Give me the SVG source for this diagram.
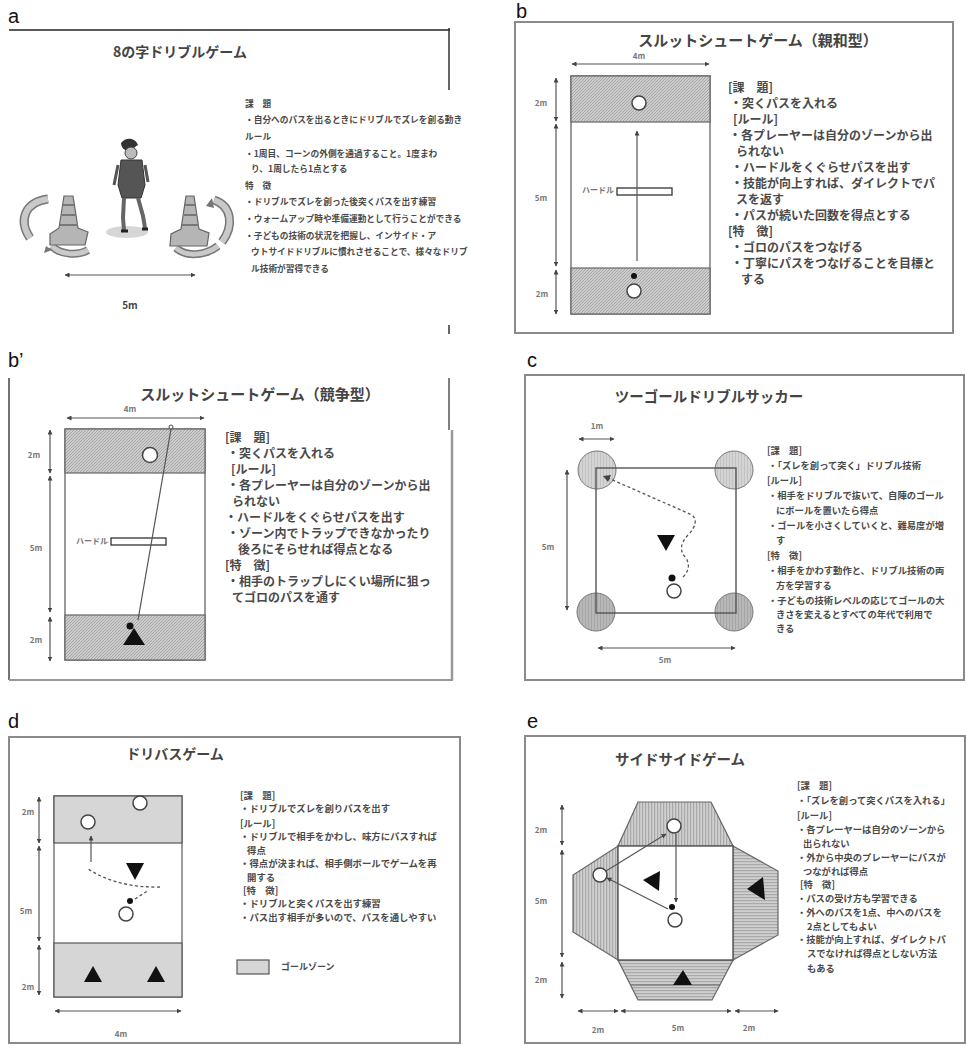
<svg xmlns="http://www.w3.org/2000/svg" width="966" height="1045" viewBox="0 0 966 1045">
  <defs>
    <style>
      .lbl { font-family: "Liberation Sans", Arial, sans-serif; font-size: 20px; fill: #111; }
      .ttl { font-family: "Noto Sans CJK JP", "Noto Sans", sans-serif; font-weight: 700; fill: #444; }
      .txt { font-family: "Noto Sans CJK JP", "Noto Sans", sans-serif; font-weight: 700; fill: #4a4a4a; }
      .dim { font-family: "Noto Sans CJK JP", "Liberation Sans", sans-serif; font-weight: 700; fill: #777; font-size: 8px; }
      .frame { fill: #fff; stroke: #8a8a8a; stroke-width: 2; }
      .field { fill: #fff; stroke: #666; stroke-width: 1.3; }
      .dl { stroke: #555; stroke-width: 1.2; fill: none; marker-start: url(#ah); marker-end: url(#ah); }
      .pass { stroke: #555; stroke-width: 1.2; fill: none; marker-end: url(#ah); }
      .drib { stroke: #555; stroke-width: 1.3; fill: none; stroke-dasharray: 3 2.5; }
      .player { fill: #fff; stroke: #444; stroke-width: 1.5; }
      .ball { fill: #111; }
      .opp { fill: #111; }
    </style>
    <marker id="ah" viewBox="0 0 10 10" refX="9" refY="5" markerWidth="5" markerHeight="5" orient="auto-start-reverse" markerUnits="userSpaceOnUse">
      <path d="M0,0 L10,5 L0,10 z" fill="#444"/>
    </marker>
    <pattern id="hatch" width="3" height="3" patternUnits="userSpaceOnUse">
      <rect width="3" height="3" fill="#cdcdcd"/>
      <path d="M0,3 L3,0" stroke="#9a9a9a" stroke-width="0.8"/>
    </pattern>
    <pattern id="vstripe" width="3" height="3" patternUnits="userSpaceOnUse">
      <rect width="3" height="3" fill="#cfcfcf"/>
      <rect width="1.2" height="3" fill="#a9a9a9"/>
    </pattern>
    <pattern id="hstripe" width="3" height="3" patternUnits="userSpaceOnUse">
      <rect width="3" height="3" fill="#cfcfcf"/>
      <rect width="3" height="1.2" fill="#a9a9a9"/>
    </pattern>
    <pattern id="goalLight" width="3" height="3" patternUnits="userSpaceOnUse">
      <rect width="3" height="3" fill="#d4d4d4"/>
      <rect width="1" height="3" fill="#c2c2c2"/>
    </pattern>
    <pattern id="goalDark" width="3" height="3" patternUnits="userSpaceOnUse">
      <rect width="3" height="3" fill="#b8b8b8"/>
      <rect width="1" height="3" fill="#a6a6a6"/>
    </pattern>
    <linearGradient id="fadeL" x1="0" x2="1" y1="0" y2="0">
      <stop offset="0" stop-color="#ddd"/>
      <stop offset="0.35" stop-color="#777"/>
      <stop offset="1" stop-color="#333"/>
    </linearGradient>
    <linearGradient id="fadeR" x1="0" x2="1" y1="0" y2="0">
      <stop offset="0" stop-color="#222"/>
      <stop offset="0.6" stop-color="#555"/>
      <stop offset="1" stop-color="#eee"/>
    </linearGradient>
  </defs>

  <rect width="966" height="1045" fill="#fff"/>

  <!-- a: figure-eight dribble game -->
  <g id="panel-a">
    <text class="lbl" x="8" y="23">a</text>
    <line x1="9" y1="30" x2="450" y2="30" stroke="#222" stroke-width="1.5"/>
    <line x1="449" y1="28" x2="449" y2="90" stroke="#333" stroke-width="1.5"/>
    <line x1="449" y1="325" x2="449" y2="334" stroke="#333" stroke-width="1.5"/>
    <line x1="9" y1="333" x2="449" y2="333" stroke="url(#fadeL)" stroke-width="1.5"/>
    <text class="ttl" x="180" y="57" font-size="14" text-anchor="middle" fill="#222">8の字ドリブルゲーム</text>

    <!-- cones with turning arrows -->
    <g id="cone-left">
      <path d="M30,238 C18,220 25,202 48,199" fill="none" stroke="#777" stroke-width="9"/>
      <path d="M30,238 C18,220 25,202 48,199" fill="none" stroke="#c9c9c9" stroke-width="6"/>
      <path d="M52,246 C60,255 78,256 88,250" fill="none" stroke="#777" stroke-width="8"/>
      <path d="M52,246 C60,255 78,256 88,250" fill="none" stroke="#c9c9c9" stroke-width="5"/>
      <path d="M50,245 L85,245 L88,232 L78,228 L73,196 L64,196 L59,228 L50,234 z" fill="#b5b5b5" stroke="#666" stroke-width="1.2"/>
      <path d="M63,205 L74,205 M62,215 L76,215 M60,225 L78,225" stroke="#777" stroke-width="2"/>
      <path d="M44,253 L46,246 L52,250" fill="#777"/>
    </g>
    <g id="cone-right">
      <path d="M214,200 C232,206 234,226 222,242" fill="none" stroke="#777" stroke-width="9"/>
      <path d="M214,200 C232,206 234,226 222,242" fill="none" stroke="#c9c9c9" stroke-width="6"/>
      <path d="M176,248 C186,257 205,256 218,246" fill="none" stroke="#777" stroke-width="8"/>
      <path d="M176,248 C186,257 205,256 218,246" fill="none" stroke="#c9c9c9" stroke-width="5"/>
      <path d="M170,246 L207,246 L209,233 L199,229 L194,196 L186,196 L181,229 L171,234 z" fill="#b5b5b5" stroke="#666" stroke-width="1.2"/>
      <path d="M185,205 L195,205 M184,215 L197,215 M182,225 L199,225" stroke="#777" stroke-width="2"/>
      <path d="M206,206 L212,198 L214,208" fill="#777"/>
    </g>
    <g id="player-a">
      <ellipse cx="127" cy="232" rx="21" ry="6" fill="#d6d6d6"/>
      <path d="M121,143 C126,136 136,138 138,145 C135,146 133,150 130,151 C125,151 121,148 121,143 z" fill="#333"/>
      <circle cx="131" cy="153" r="6" fill="#bbb" stroke="#444"/>
      <path d="M121,160 L142,160 L145,185 L141,198 L122,198 L118,185 z" fill="#555" stroke="#333"/>
      <path d="M118,165 L114,185 M145,165 L148,182" stroke="#555" stroke-width="3"/>
      <path d="M124,198 L123,218 L124,230 M138,198 L143,216 L145,228" stroke="#666" stroke-width="4" fill="none"/>
      <path d="M121,231 L128,231 M142,229 L148,229" stroke="#222" stroke-width="3"/>
    </g>
    <line class="dl" x1="65" y1="275" x2="195" y2="275" stroke-width="1"/>
    <text class="ttl" x="130" y="309" font-size="10" text-anchor="middle" fill="#222">5m</text>

    <g class="txt" font-size="8.7" fill="#1a1a1a">
      <text x="245" y="107">課　題</text>
      <text x="245" y="123">・自分へのパスを出るときにドリブルでズレを創る動き</text>
      <text x="245" y="140">ルール</text>
      <text x="245" y="157">・1周目、コーンの外側を通過すること。1度まわ</text>
      <text x="251" y="172">り、1周したら1点とする</text>
      <text x="245" y="189">特　徴</text>
      <text x="245" y="205">・ドリブルでズレを創った後突くパスを出す練習</text>
      <text x="245" y="222">・ウォームアップ時や準備運動として行うことができる</text>
      <text x="245" y="239">・子どもの技術の状況を把握し、インサイド・ア</text>
      <text x="251" y="255">ウトサイドドリブルに慣れさせることで、様々なドリブ</text>
      <text x="251" y="272">ル技術が習得できる</text>
    </g>
  </g>

  <!-- b: slot shoot game (cooperative) -->
  <g id="panel-b">
    <text class="lbl" x="516" y="18">b</text>
    <rect class="frame" x="515" y="22" width="438" height="311"/>
    <text class="ttl" x="758" y="46" font-size="15" text-anchor="middle">スルットシュートゲーム（親和型）</text>
    <rect class="field" x="571" y="76" width="139" height="238"/>
    <rect x="571" y="76" width="139" height="46" fill="url(#hatch)" stroke="#666" stroke-width="1.2"/>
    <rect x="571" y="268" width="139" height="46" fill="url(#hatch)" stroke="#666" stroke-width="1.2"/>
    <circle class="player" cx="639" cy="103" r="7"/>
    <circle class="player" cx="634" cy="291" r="7"/>
    <circle class="ball" cx="634" cy="276" r="3"/>
    <rect x="617" y="188" width="55" height="7" fill="#fff" stroke="#333" stroke-width="1.3"/>
    <text class="dim" x="614" y="193" text-anchor="end">ハードル</text>
    <g id="connectors-b">
      <line class="pass" x1="637" y1="261" x2="637" y2="131"/>
      <line class="dl" x1="572" y1="64" x2="709" y2="64"/>
      <line class="dl" x1="556" y1="78" x2="556" y2="121"/>
      <line class="dl" x1="556" y1="124" x2="556" y2="266"/>
      <line class="dl" x1="556" y1="270" x2="556" y2="314"/>
    </g>
    <text class="dim" x="639" y="59" text-anchor="middle">4m</text>
    <text class="dim" x="541" y="106" text-anchor="middle">2m</text>
    <text class="dim" x="541" y="201" text-anchor="middle">5m</text>
    <text class="dim" x="542" y="297" text-anchor="middle">2m</text>
    <g class="txt" font-size="12">
      <text x="728" y="92">[課　題]</text>
      <text x="730" y="108">・突くパスを入れる</text>
      <text x="733" y="124">[ルール]</text>
      <text x="729" y="140">・各プレーヤーは自分のゾーンから出</text>
      <text x="736" y="156">られない</text>
      <text x="731" y="172">・ハードルをくぐらせパスを出す</text>
      <text x="731" y="188">・技能が向上すれば、ダイレクトでパ</text>
      <text x="736" y="204">スを返す</text>
      <text x="731" y="220">・パスが続いた回数を得点とする</text>
      <text x="728" y="236">[特　徴]</text>
      <text x="731" y="252">・ゴロのパスをつなげる</text>
      <text x="731" y="268">・丁寧にパスをつなげることを目標と</text>
      <text x="741" y="284">する</text>
    </g>
  </g>

  <!-- b': slot shoot game (competitive) -->
  <g id="panel-b2">
    <text class="lbl" x="8" y="367">b’</text>
    <line x1="9" y1="378" x2="9" y2="680" stroke="#444" stroke-width="1.5"/>
    <line x1="9" y1="378" x2="330" y2="378" stroke="url(#fadeR)" stroke-width="1.5"/>
    <line x1="449" y1="378" x2="449" y2="430" stroke="#555" stroke-width="1.5"/>
    <line x1="452" y1="430" x2="452" y2="680" stroke="#999" stroke-width="2.5"/>
    <line x1="9" y1="680" x2="453" y2="680" stroke="#999" stroke-width="2"/>
    <text class="ttl" x="260" y="400" font-size="15" text-anchor="middle">スルットシュートゲーム（競争型）</text>
    <rect class="field" x="65" y="429" width="140" height="231"/>
    <rect x="65" y="429" width="140" height="44" fill="url(#hatch)" stroke="#666" stroke-width="1.2"/>
    <rect x="65" y="615" width="140" height="45" fill="url(#hatch)" stroke="#666" stroke-width="1.2"/>
    <circle class="player" cx="150" cy="455" r="7.5"/>
    <circle cx="171" cy="427" r="2" fill="#fff" stroke="#444"/>
    <rect x="111" y="538" width="55" height="7" fill="#fff" stroke="#333" stroke-width="1.3"/>
    <text class="dim" x="108" y="544" text-anchor="end">ハードル</text>
    <g id="connectors-b2">
      <line x1="171" y1="429" x2="138" y2="620" stroke="#555" stroke-width="1.2"/>
      <line class="dl" x1="67" y1="418" x2="204" y2="418"/>
      <line class="dl" x1="50" y1="430" x2="50" y2="473"/>
      <line class="dl" x1="50" y1="476" x2="50" y2="612"/>
      <line class="dl" x1="50" y1="617" x2="50" y2="661"/>
    </g>
    <circle class="ball" cx="130" cy="626" r="3.5"/>
    <path class="opp" d="M134,628 L145,645 L123,645 Z"/>
    <text class="dim" x="130" y="412" text-anchor="middle">4m</text>
    <text class="dim" x="34" y="458" text-anchor="middle">2m</text>
    <text class="dim" x="36" y="551" text-anchor="middle">5m</text>
    <text class="dim" x="36" y="643" text-anchor="middle">2m</text>
    <g class="txt" font-size="12">
      <text x="225" y="442">[課　題]</text>
      <text x="227" y="458">・突くパスを入れる</text>
      <text x="231" y="474">[ルール]</text>
      <text x="227" y="490">・各プレーヤーは自分のゾーンから出</text>
      <text x="232" y="506">られない</text>
      <text x="225" y="522">・ハードルをくぐらせパスを出す</text>
      <text x="227" y="538">・ゾーン内でトラップできなかったり</text>
      <text x="238" y="554">後ろにそらせれば得点となる</text>
      <text x="225" y="570">[特　徴]</text>
      <text x="227" y="586">・相手のトラップしにくい場所に狙っ</text>
      <text x="232" y="602">てゴロのパスを通す</text>
    </g>
  </g>

  <!-- c: two-goal dribble soccer -->
  <g id="panel-c">
    <text class="lbl" x="527" y="367">c</text>
    <rect class="frame" x="525" y="375" width="439" height="305"/>
    <text class="ttl" x="709" y="402" font-size="14.5" text-anchor="middle">ツーゴールドリブルサッカー</text>
    <circle cx="597" cy="470" r="19" fill="url(#goalLight)" stroke="#777" stroke-width="1"/>
    <circle cx="734" cy="470" r="19" fill="url(#goalLight)" stroke="#777" stroke-width="1"/>
    <circle cx="596" cy="612" r="19" fill="url(#goalDark)" stroke="#777" stroke-width="1"/>
    <circle cx="734" cy="612" r="19" fill="url(#goalDark)" stroke="#777" stroke-width="1"/>
    <rect x="596" y="468" width="140" height="145" fill="none" stroke="#555" stroke-width="1.4"/>
    <g id="connectors-c">
      <path class="drib" d="M683,577 Q692,568 686,558 Q676,548 688,535 Q700,522 692,515 L640,492 L608,478"/>
      <path d="M603,476 L611,475 L608,482 z" fill="#444"/>
      <line class="dl" x1="579" y1="439" x2="614" y2="439"/>
      <line class="dl" x1="567" y1="470" x2="567" y2="610"/>
      <line class="dl" x1="598" y1="648" x2="735" y2="648"/>
    </g>
    <path class="opp" d="M657,535 L675,535 L666,551 Z"/>
    <circle class="ball" cx="672" cy="578" r="3.5"/>
    <circle class="player" cx="674" cy="591" r="7"/>
    <text class="dim" x="597" y="429" text-anchor="middle">1m</text>
    <text class="dim" x="548" y="550" text-anchor="middle">5m</text>
    <text class="dim" x="665" y="663" text-anchor="middle">5m</text>
    <g class="txt" font-size="9.3">
      <text x="767" y="454">[課　題]</text>
      <text x="768" y="469">・「ズレを創って突く」ドリブル技術</text>
      <text x="767" y="484">[ルール]</text>
      <text x="768" y="499">・相手をドリブルで抜いて、自陣のゴール</text>
      <text x="776" y="514">にボールを置いたら得点</text>
      <text x="768" y="529">・ゴールを小さくしていくと、難易度が増</text>
      <text x="776" y="544">す</text>
      <text x="767" y="559">[特　徴]</text>
      <text x="768" y="574">・相手をかわす動作と、ドリブル技術の両</text>
      <text x="776" y="589">方を学習する</text>
      <text x="768" y="604">・子どもの技術レベルの応じてゴールの大</text>
      <text x="776" y="618">きさを変えるとすべての年代で利用で</text>
      <text x="776" y="632">きる</text>
    </g>
  </g>

  <!-- d: dribble-pass game -->
  <g id="panel-d">
    <text class="lbl" x="8" y="728">d</text>
    <rect class="frame" x="9" y="737" width="451" height="306"/>
    <text class="ttl" x="175" y="759" font-size="14" text-anchor="middle">ドリバスゲーム</text>
    <rect class="field" x="54" y="796" width="128" height="201"/>
    <rect x="54" y="796" width="128" height="47" fill="#d6d6d6" stroke="#555" stroke-width="1.2"/>
    <rect x="54" y="943" width="128" height="54" fill="#d6d6d6" stroke="#555" stroke-width="1.2"/>
    <circle class="player" cx="140" cy="803" r="7"/>
    <circle class="player" cx="88" cy="822" r="7"/>
    <circle class="player" cx="126" cy="914" r="7"/>
    <circle class="ball" cx="130" cy="901" r="3"/>
    <path class="opp" d="M126,863 L144,863 L135,880 Z"/>
    <path class="opp" d="M93,966 L102,982 L84,982 Z"/>
    <path class="opp" d="M156,966 L165,982 L147,982 Z"/>
    <g id="connectors-d">
      <line class="pass" x1="91" y1="862" x2="91" y2="836"/>
      <path class="drib" d="M160,887 Q118,888 88,869"/>
      <path class="drib" d="M135,899 L149,890"/>
      <line class="dl" x1="39" y1="797" x2="39" y2="843"/>
      <line class="dl" x1="39" y1="846" x2="39" y2="941"/>
      <line class="dl" x1="39" y1="945" x2="39" y2="995"/>
      <line class="dl" x1="55" y1="1011" x2="181" y2="1011"/>
    </g>
    <text class="dim" x="28" y="815" text-anchor="middle">2m</text>
    <text class="dim" x="26" y="914" text-anchor="middle">5m</text>
    <text class="dim" x="28" y="990" text-anchor="middle">2m</text>
    <text class="dim" x="121" y="1037" text-anchor="middle">4m</text>
    <g class="txt" font-size="9.4">
      <text x="240" y="799">[課　題]</text>
      <text x="240" y="812">・ドリブルでズレを創りパスを出す</text>
      <text x="240" y="827">[ルール]</text>
      <text x="240" y="840">・ドリブルで相手をかわし、味方にパスすれば</text>
      <text x="247" y="854">得点</text>
      <text x="240" y="867">・得点が決まれば、相手側ボールでゲームを再</text>
      <text x="247" y="881">開する</text>
      <text x="243" y="894">[特　徴]</text>
      <text x="240" y="907">・ドリブルと突くパスを出す練習</text>
      <text x="240" y="921">・パス出す相手が多いので、パスを通しやすい</text>
    </g>
    <rect x="237" y="960" width="32" height="14" fill="#d6d6d6" stroke="#555" stroke-width="1.2"/>
    <text class="txt" x="281" y="970" font-size="9">ゴールゾーン</text>
  </g>

  <!-- e: side-side game -->
  <g id="panel-e">
    <text class="lbl" x="527" y="728">e</text>
    <rect class="frame" x="525" y="736" width="440" height="307"/>
    <text class="ttl" x="680" y="765" font-size="14.5" text-anchor="middle">サイドサイドゲーム</text>
    <path d="M638,802 L711,802 L733,846 L618,846 Z" fill="url(#vstripe)" stroke="#666" stroke-width="1.2"/>
    <path d="M618,846 L618,960 L573,932 L573,875 Z" fill="url(#vstripe)" stroke="#666" stroke-width="1.2"/>
    <path d="M733,846 L733,960 L778,935 L778,871 Z" fill="url(#hstripe)" stroke="#666" stroke-width="1.2"/>
    <path d="M618,960 L733,960 L712,1000 L638,1000 Z" fill="url(#hstripe)" stroke="#666" stroke-width="1.2"/>
    <line x1="631" y1="985" x2="720" y2="985" stroke="#666" stroke-width="1"/>
    <rect x="618" y="846" width="115" height="114" fill="#fff" stroke="#555" stroke-width="1.4"/>
    <circle class="player" cx="674" cy="826" r="7"/>
    <circle class="player" cx="600" cy="875" r="7"/>
    <circle class="player" cx="675" cy="920" r="7"/>
    <circle class="ball" cx="672" cy="907" r="3"/>
    <path class="opp" d="M643,880 L660,871 L659,891 Z"/>
    <path class="opp" d="M747,889 L763,877 L765,900 Z"/>
    <path class="opp" d="M683,970 L692,985 L673,985 Z"/>
    <g id="connectors-e">
      <line class="pass" x1="606" y1="871" x2="666" y2="834"/>
      <line class="pass" x1="676" y1="834" x2="676" y2="902"/>
      <line class="pass" x1="668" y1="909" x2="607" y2="878"/>
      <line class="dl" x1="562" y1="805" x2="562" y2="845"/>
      <line class="dl" x1="562" y1="850" x2="562" y2="957"/>
      <line class="dl" x1="562" y1="962" x2="562" y2="998"/>
      <line class="dl" x1="578" y1="1011" x2="618" y2="1011"/>
      <line class="dl" x1="621" y1="1011" x2="731" y2="1011"/>
      <line class="dl" x1="735" y1="1011" x2="778" y2="1011"/>
    </g>
    <text class="dim" x="541" y="833" text-anchor="middle">2m</text>
    <text class="dim" x="541" y="904" text-anchor="middle">5m</text>
    <text class="dim" x="541" y="983" text-anchor="middle">2m</text>
    <text class="dim" x="598" y="1033" text-anchor="middle">2m</text>
    <text class="dim" x="678" y="1031" text-anchor="middle">5m</text>
    <text class="dim" x="749" y="1031" text-anchor="middle">2m</text>
    <g class="txt" font-size="9.3">
      <text x="797" y="789">[課　題]</text>
      <text x="797" y="804">・「ズレを創って突くパスを入れる」</text>
      <text x="797" y="819">[ルール]</text>
      <text x="797" y="833">・各プレーヤーは自分のゾーンから</text>
      <text x="803" y="847">出られない</text>
      <text x="797" y="861">・外から中央のプレーヤーにパスが</text>
      <text x="803" y="875">つながれば得点</text>
      <text x="800" y="888">[特　徴]</text>
      <text x="797" y="902">・パスの受け方も学習できる</text>
      <text x="797" y="916">・外へのパスを1点、中へのパスを</text>
      <text x="807" y="930">2点としてもよい</text>
      <text x="797" y="943">・技能が向上すれば、ダイレクトパ</text>
      <text x="807" y="957">スでなければ得点としない方法</text>
      <text x="807" y="972">もある</text>
    </g>
  </g>
</svg>
